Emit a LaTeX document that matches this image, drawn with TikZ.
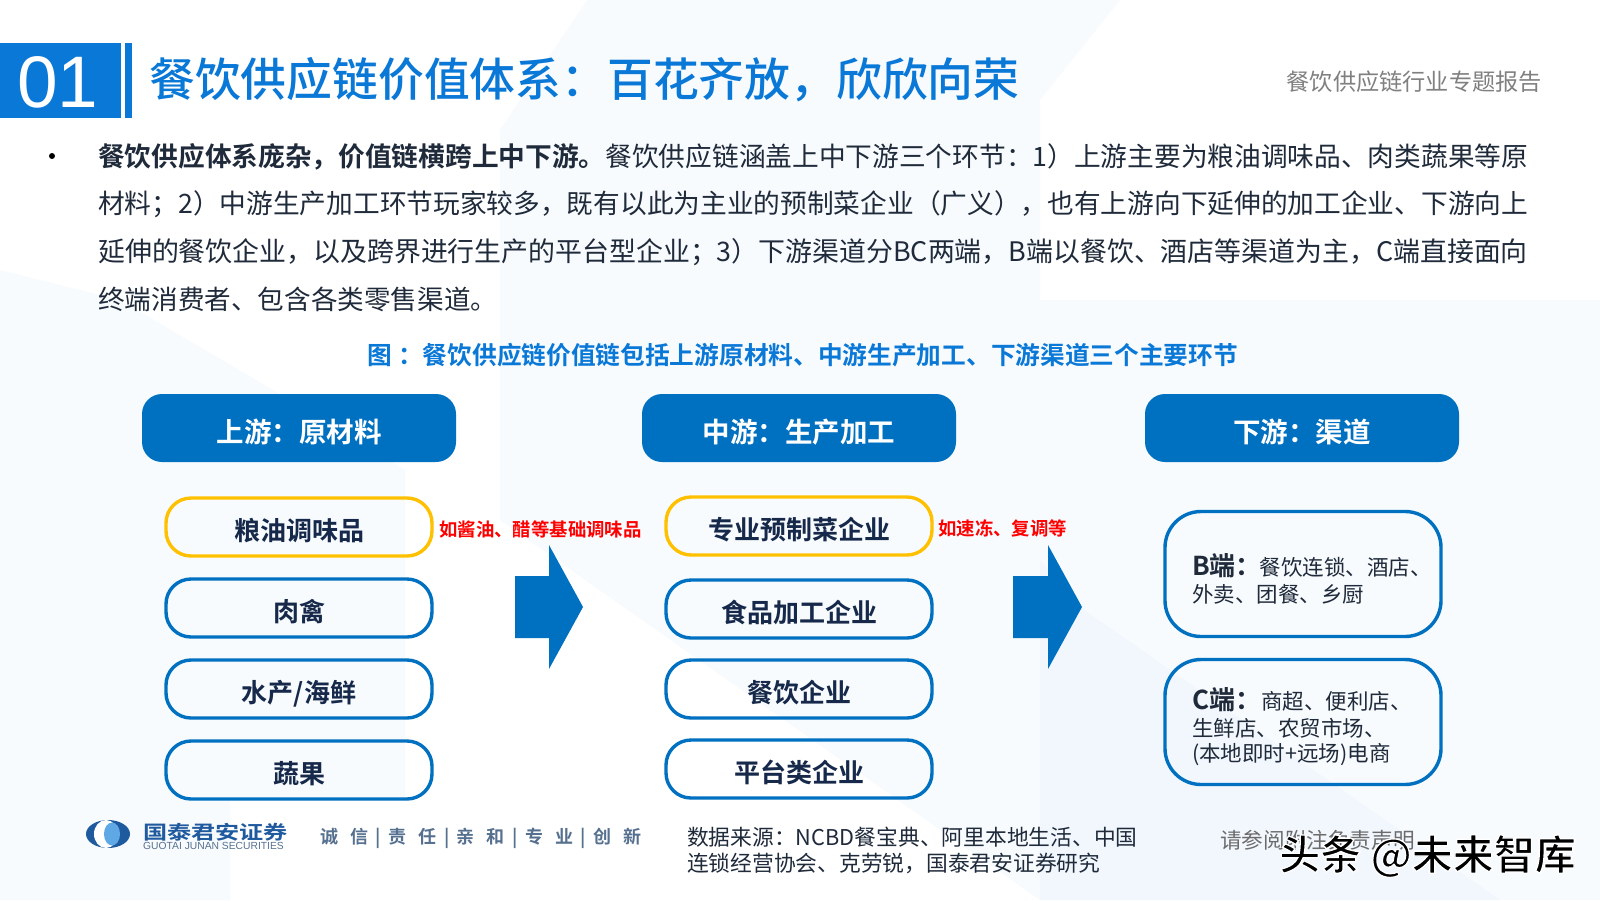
\documentclass[tikz,border=0pt]{standalone}
\usepackage{fontspec}
\setmainfont{Noto Sans CJK SC}[BoldFont={Noto Sans CJK SC Bold}]
\newfontfamily\latinf{Liberation Sans}
\newfontfamily\medf{Noto Sans CJK SC Medium}
\definecolor{mblue}{HTML}{0070C0}
\definecolor{tblue}{HTML}{0A78D7}
\definecolor{navy}{HTML}{16294A}
\definecolor{bodyc}{HTML}{1F2A3A}
\definecolor{bga}{HTML}{F8FBFE}
\definecolor{bgb}{HTML}{F2F7FE}
\definecolor{goldc}{HTML}{FFC000}
\definecolor{logod}{HTML}{1F5A9E}
\definecolor{logol}{HTML}{5FA8E6}
\definecolor{slog}{HTML}{56708F}
\newcommand{\fs}[1]{\fontsize{#1}{#1}\selectfont}
\newcommand{\gp}{\hspace{12pt}}
\newcommand{\sep}{\hspace{7.5pt}|\hspace{7.5pt}}
\tikzset{
 head/.style={fill=mblue,rounded corners=20pt,minimum width=314pt,minimum height=68pt,text=white,font=\fs{27.5}\bfseries,inner sep=0pt,text height=29pt,text depth=0pt},
 item/.style={draw=mblue,line width=3.4pt,rounded corners=25pt,minimum width=266pt,minimum height=58pt,text=navy,font=\fs{26}\bfseries,inner sep=0pt,text height=27pt,text depth=0pt},
 gold/.style={item,draw=goldc},
 channel/.style={draw=mblue,line width=3.4pt,rounded corners=36pt,minimum width=276pt,minimum height=125pt,inner sep=0pt},
 note/.style={text=red,font=\fs{18.4}\bfseries,inner sep=0pt,anchor=west},
 line/.style={anchor=west,inner sep=0pt,text=bodyc},
 sub/.style={anchor=west,inner sep=0pt,text=bodyc,font=\fs{21.5}},
 src/.style={anchor=west,inner sep=0pt,text=bodyc,font=\fs{21.75}},
 flow/.style={fill=mblue,draw=none}
}
\begin{document}
\begin{tikzpicture}[x=1pt,y=-1pt]
\useasboundingbox (0,0) rectangle (1600,900);
\fill[white] (0,0) rectangle (1600,900);
% faint background
\fill[bga] (0,270) -- (120,300) -- (290,400) -- (405,470) -- (405,800) -- (230,800) -- (230,900) -- (0,900) -- cycle;
\fill[bga] (587,0) -- (1120,0) -- (1040,100) -- (1040,900) -- (500,520) -- (500,130) -- cycle;
\fill[bga] (1040,300) rectangle (1600,900);
\fill[bgb] (1040,560) -- (1080,607) -- (1500,900) -- (1040,900) -- cycle;
% title block
\fill[tblue] (0,43) rectangle (121,118);
\fill[tblue] (125,43) rectangle (132,118);
\node[text=white,font=\latinf\fs{73},inner sep=0pt] (num) at (58,82) {01};
\node[text=tblue,font=\medf\fs{45.8},anchor=west,inner sep=0pt] (title) at (149,80) {餐饮供应链价值体系：百花齐放，欣欣向荣};
\node[text=gray,font=\fs{23.2},anchor=east,inner sep=0pt] (tag) at (1542,82) {餐饮供应链行业专题报告};
% bullet and body
\fill[black] (52,156) circle (3pt);
\node[line,font=\fs{26.7}] (l1) at (98,157) {\textbf{餐饮供应体系庞杂，价值链横跨上中下游。}餐饮供应链涵盖上中下游三个环节：1）上游主要为粮油调味品、肉类蔬果等原};
\node[line,font=\fs{26.7}] (l2) at (98,204) {材料；2）中游生产加工环节玩家较多，既有以此为主业的预制菜企业（广义），也有上游向下延伸的加工企业、下游向上};
\node[line,font=\fs{26.9}] (l3) at (98,252) {延伸的餐饮企业，以及跨界进行生产的平台型企业；3）下游渠道分BC两端，B端以餐饮、酒店等渠道为主，C端直接面向};
\node[line,font=\fs{26.6}] (l4) at (98,299) {终端消费者、包含各类零售渠道。};
\node[text=tblue,font=\fs{24.7}\bfseries,inner sep=0pt] (cap) at (803,355) {图 ：餐饮供应链价值链包括上游原材料、中游生产加工、下游渠道三个主要环节};
% headers
\node[head] (h1) at (299,428) {上游：原材料};
\node[head] (h2) at (799,428) {中游：生产加工};
\node[head] (h3) at (1302,428) {下游：渠道};
% upstream
\node[gold] (a1) at (299,527) {粮油调味品};
\node[item] (a2) at (299,608) {肉禽};
\node[item] (a3) at (299,689) {水产/海鲜};
\node[item] (a4) at (299,770) {蔬果};
% midstream
\node[gold] (b1) at (799,526) {专业预制菜企业};
\node[item] (b2) at (799,609) {食品加工企业};
\node[item] (b3) at (799,689) {餐饮企业};
\node[item] (b4) at (799,769) {平台类企业};
% notes
\node[note] (n1) at (439,529) {如酱油、醋等基础调味品};
\node[note] (n2) at (938,528) {如速冻、复调等};
% arrows
\fill[flow] (515,576) -- (549,576) -- (549,545) -- (583,607) -- (549,669) -- (549,638) -- (515,638) -- cycle;
\fill[flow] (1013,576) -- (1048,576) -- (1048,545) -- (1082,607) -- (1048,669) -- (1048,638) -- (1013,638) -- cycle;
% downstream
\node[channel] (c1) at (1303,574) {};
\node[channel] (c2) at (1303,722) {};
\node[sub] (c1a) at (1192,566) {\fs{26}\textbf{B端：}\fs{21.5}\hspace{-2pt}餐饮连锁、酒店、};
\node[sub] (c1b) at (1192,594) {外卖、团餐、乡厨};
\node[sub] (c2a) at (1192,700) {\fs{26}\textbf{C端：}\fs{21.5}商超、便利店、};
\node[sub] (c2b) at (1192,728) {生鲜店、农贸市场、};
\node[sub] (c2c) at (1192,755) {(本地即时+远场)电商};
% footer
\fill[logod] (108,834) ellipse (22pt and 14pt);
\fill[white] (106,834) ellipse (12pt and 14pt);
\fill[logol] (112,834) ellipse (8pt and 11.5pt);
\node[anchor=west,inner sep=0pt,text=logod,font=\bfseries\fs{19},xscale=1.27] (logo) at (143,832) {国泰君安证券};
\node[anchor=west,inner sep=0pt,text=slog,font=\latinf\fs{10.3}] (logoen) at (143,846) {GUOTAI JUNAN SECURITIES};
\node[anchor=west,inner sep=0pt,text=slog,font=\fs{18}\bfseries] (slogan) at (320,838) {诚\gp 信\sep 责\gp 任\sep 亲\gp 和\sep 专\gp 业\sep 创\gp 新};
\node[src] (s1) at (687,837) {数据来源：NCBD餐宝典、阿里本地生活、中国};
\node[src] (s2) at (687,863) {连锁经营协会、克劳锐，国泰君安证券研究};
\node[anchor=west,inner sep=0pt,text=gray!85!black,font=\fs{21.6}] (disc) at (1220,840) {请参阅附注免责声明};
% watermark
\node[anchor=west,inner sep=0pt,text=black,font=\bfseries\fs{41}] (wm) at (1279,856) {\special{pdf:code 2 Tr 1 1 1 RG 1.3 w}头条 @未来智库\special{pdf:code 0 Tr}};
\end{tikzpicture}
\end{document}
